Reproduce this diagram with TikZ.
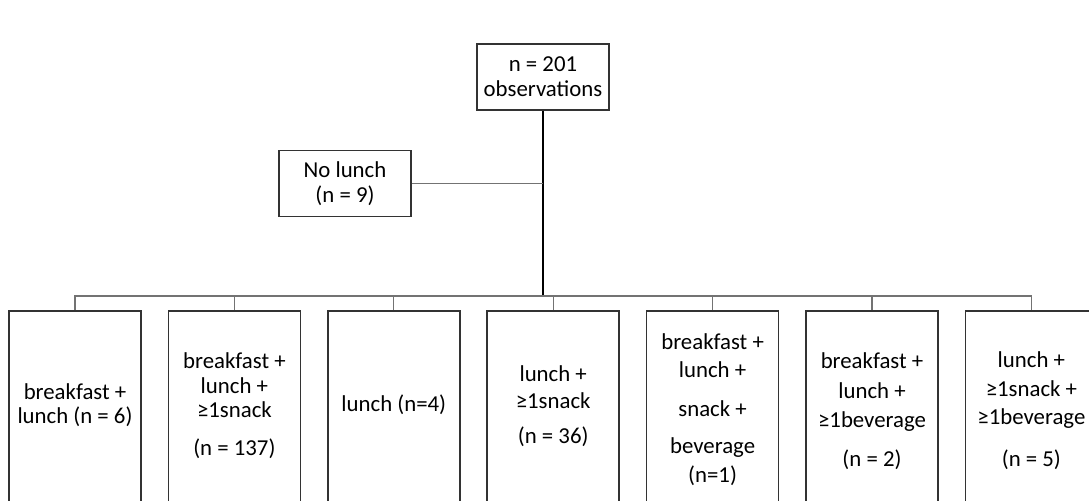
\documentclass[tikz,border=0pt]{standalone}
\usepackage{fontspec}
\setmainfont{Carlito}
\usepackage{tikz}
\usetikzlibrary{positioning, calc}
\tikzset{
    countbox/.style={
        rectangle,
        draw=black!80,
        line width=0.8pt,
        minimum width=66pt,
        minimum height=33pt,
        fill=white,
        align=center,
        font=\fontsize{11.4}{12.4}\selectfont
    },
    catbox/.style={
        rectangle,
        draw=black!80,
        line width=0.8pt,
        minimum width=66pt,
        minimum height=100pt,
        fill=white
    },
    boxtext/.style={
        align=center,
        inner sep=0pt,
        font=\fontsize{11.4}{12.2}\selectfont
    },
    wire/.style={
        draw=black!55,
        line width=0.6pt
    },
    trunk/.style={
        draw=black,
        line width=1.3pt
    }
}

\begin{document}
\begin{tikzpicture}[x=0.5pt, y=-0.5pt]

\useasboundingbox (0,0) rectangle (1089,501);

% Total and excluded
\node[countbox] (total) at (543,77) {n = 201\\observations};
\node[countbox] (nolunch) at (345,183.5) {No lunch\\(n = 9)};

% Meal pattern boxes
\node[catbox] (b1) at (75,411) {};
\node[catbox, right=12.9pt of b1] (b2) {};
\node[catbox, right=12.9pt of b2] (b3) {};
\node[catbox, right=12.9pt of b3] (b4) {};
\node[catbox, right=12.9pt of b4] (b5) {};
\node[catbox, right=12.9pt of b5] (b6) {};
\node[catbox, right=12.9pt of b6] (b7) {};

\node[boxtext] (t1) at (b1 |- 0,405) {breakfast +\\lunch (n = 6)};
\node[boxtext] (t2) at (b2 |- 0,406) {breakfast +\\lunch +\\≥1snack\\[6.8pt](n = 137)};
\node[boxtext] (t3) at (b3 |- 0,405) {lunch (n=4)};
\node[boxtext] (t4) at (b4 |- 0,406) {lunch +\\[1.3pt]≥1snack\\[5.3pt](n = 36)};
\node[boxtext] (t5) at (b5 |- 0,409.5) {breakfast +\\[1.8pt]lunch +\\[7.3pt]snack +\\[6.3pt]beverage\\[2.3pt](n=1)};
\node[boxtext] (t6) at (b6 |- 0,411) {breakfast +\\[2.8pt]lunch +\\[2.3pt]≥1beverage\\[7.3pt](n = 2)};
\node[boxtext] (t7) at (b7 |- 0,410.5) {lunch +\\[2.3pt]≥1snack +\\[1.8pt]≥1beverage\\[8.8pt](n = 5)};

% Connectors
\coordinate (hub) at (543,296);
\draw[trunk] (total.south) -- (hub);
\draw[wire] (nolunch.east) -- (nolunch.east -| hub);
\foreach \i in {1,...,7}
    \draw[wire] (hub) -| (b\i.north);

\end{tikzpicture}
\end{document}
